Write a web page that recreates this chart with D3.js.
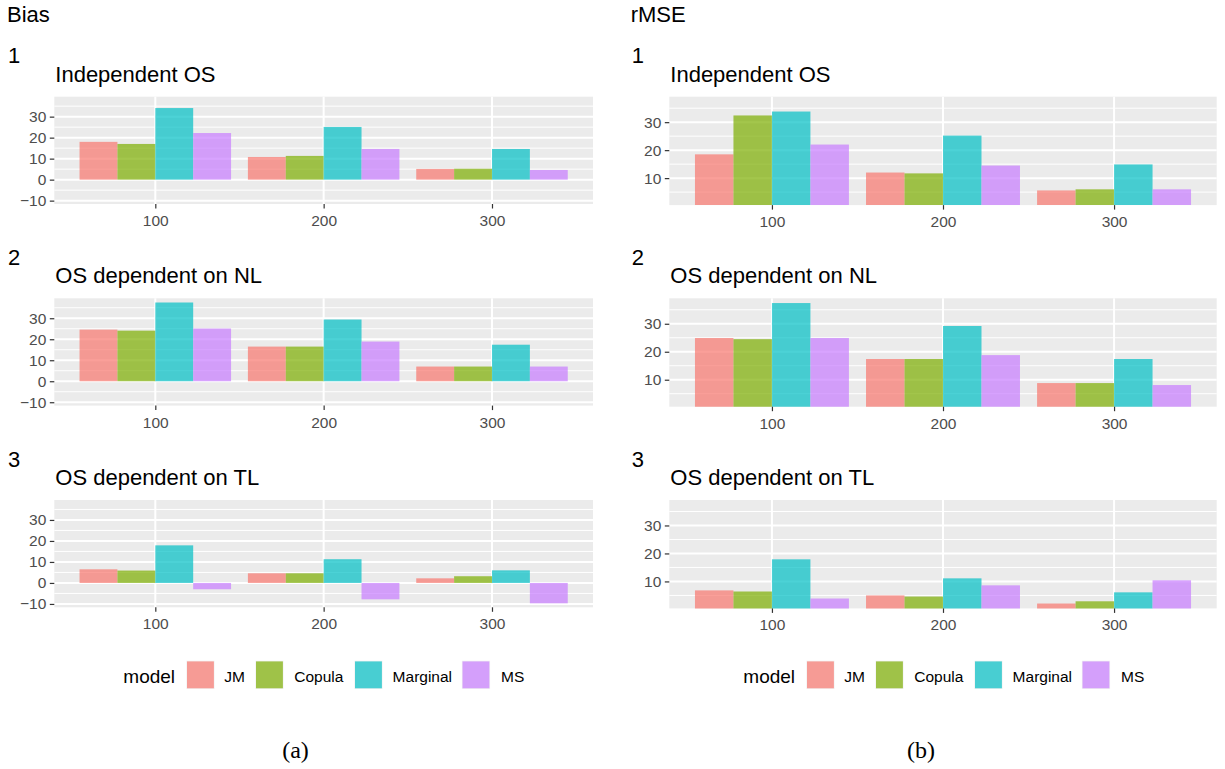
<!DOCTYPE html>
<html>
<head>
<meta charset="utf-8">
<script src="https://cdn.jsdelivr.net/npm/d3@7"></script>
<style>
  body { margin: 0; background: #fff; }
  svg text { font-family: "Liberation Sans", Arial, sans-serif; }
  svg text.caption { font-family: "Liberation Serif", "Times New Roman", serif; }
</style>
</head>
<body>
<div id="chart"></div>
<script>
// data; rows = model, columns = sample size
const sampleSizes = [100, 200, 300];
const models = ["JM", "Copula", "Marginal", "MS"];
const modelColors = ["#F8766D", "#7CAE00", "#00BFC4", "#C77CFF"];
const scenarios = ["Independent OS", "OS dependent on NL", "OS dependent on TL"];

const biasIndependent = [[18.0, 10.8, 5.1], [17.0, 11.3, 5.2], [34.1, 25.1, 14.6], [22.2, 14.6, 4.6]];
const biasNL = [[24.6, 16.5, 7.0], [24.1, 16.5, 7.0], [37.5, 29.4, 17.4], [25.1, 18.9, 7.0]];
const biasTL = [[6.5, 4.6, 2.2], [5.9, 4.6, 3.2], [17.9, 11.3, 6.0], [-3.0, -7.8, -9.7]];

const rmseIndependent = [[18.5, 12.0, 5.6], [32.4, 11.7, 6.0], [33.8, 25.2, 14.9], [22.0, 14.5, 6.0]];
const rmseNL = [[24.9, 17.4, 8.8], [24.5, 17.4, 8.8], [37.4, 29.2, 17.4], [24.9, 18.8, 8.1]];
const rmseTL = [[6.8, 5.0, 2.1], [6.4, 4.6, 2.9], [17.9, 11.1, 6.1], [3.9, 8.6, 10.4]];

const biasTicks = [-10, 0, 10, 20, 30];
const biasMinor = [-5, 5, 15, 25, 35];
const rmseTicks = [10, 20, 30];
const rmseMinor = [5, 15, 25, 35];

const W = 1225, H = 769;
const svg = d3.select("#chart").append("svg")
    .attr("width", W).attr("height", H);

const panelTops = [96.7, 298.3, 500];

function drawColumn(opts) {
    const g = svg.append("g");

    g.append("text")
        .attr("x", opts.titleX).attr("y", 21.7)
        .attr("font-size", 22).attr("fill", "#000")
        .text(opts.title);

    opts.data.forEach((vals, p) => {
        const top = panelTops[p];
        const bottom = top + opts.height;
        const x = d3.scaleLinear().domain([40, 360]).range([opts.x0, opts.x1]);
        const y = d3.scaleLinear().domain(opts.yDomain).range([bottom, top]);

        // panel number and subtitle
        g.append("text")
            .attr("x", opts.titleX + 1).attr("y", top - 33.4)
            .attr("font-size", 22).text(p + 1);
        g.append("text")
            .attr("x", opts.x0 + 1).attr("y", top - 15)
            .attr("font-size", 22).text(scenarios[p]);

        const clipId = "clip-" + opts.key + p;
        g.append("clipPath").attr("id", clipId)
            .append("rect")
            .attr("x", opts.x0).attr("y", top)
            .attr("width", opts.x1 - opts.x0).attr("height", opts.height);

        g.append("rect")
            .attr("x", opts.x0).attr("y", top)
            .attr("width", opts.x1 - opts.x0).attr("height", opts.height)
            .attr("fill", "#EBEBEB");

        // grid
        const grid = g.append("g").attr("stroke", "#fff");
        grid.selectAll("line.minor")
            .data(opts.minor)
            .join("line")
            .attr("x1", opts.x0).attr("x2", opts.x1)
            .attr("y1", d => y(d)).attr("y2", d => y(d))
            .attr("stroke-width", 1);
        grid.selectAll("line.majorY")
            .data(opts.ticks)
            .join("line")
            .attr("x1", opts.x0).attr("x2", opts.x1)
            .attr("y1", d => y(d)).attr("y2", d => y(d))
            .attr("stroke-width", 2);
        grid.selectAll("line.majorX")
            .data(sampleSizes)
            .join("line")
            .attr("x1", d => x(d)).attr("x2", d => x(d))
            .attr("y1", top).attr("y2", bottom)
            .attr("stroke-width", 2);

        // bars, dodged, total width 90 units
        const bw = 90 / models.length;
        const bars = [];
        vals.forEach((row, m) => {
            row.forEach((v, s) => bars.push({m: m, n: sampleSizes[s], v: v}));
        });
        g.append("g").attr("clip-path", `url(#${clipId})`)
            .selectAll("rect")
            .data(bars)
            .join("rect")
            .attr("x", d => x(d.n - 45 + d.m * bw))
            .attr("width", d => x(d.n - 45 + (d.m + 1) * bw) - x(d.n - 45 + d.m * bw))
            .attr("y", d => y(Math.max(0, d.v)))
            .attr("height", d => Math.abs(y(0) - y(d.v)))
            .attr("fill", d => modelColors[d.m])
            .attr("fill-opacity", 0.7);

        // axes
        const yAxis = g.append("g")
            .attr("transform", `translate(${opts.x0},0)`)
            .call(d3.axisLeft(y).tickValues(opts.ticks).tickSize(4.5).tickPadding(3.5));
        yAxis.select(".domain").remove();
        yAxis.selectAll("line").attr("stroke", "#333").attr("stroke-width", 1.2);
        yAxis.selectAll("text").attr("fill", "#4D4D4D").attr("font-size", 15.5);

        const xAxis = g.append("g")
            .attr("transform", `translate(0,${bottom})`)
            .call(d3.axisBottom(x).tickValues(sampleSizes).tickSize(4.5).tickPadding(6.5));
        xAxis.select(".domain").remove();
        xAxis.selectAll("line").attr("stroke", "#333").attr("stroke-width", 1.2);
        xAxis.selectAll("text").attr("fill", "#4D4D4D").attr("font-size", 15.5);
    });

    // legend
    const lg = g.append("g").attr("transform", `translate(${opts.legendX},0)`);
    lg.append("text").attr("x", 0).attr("y", 682.7)
        .attr("font-size", 19).text("model");
    const keyX = [63, 132, 231, 338.5];
    const labelX = [101, 171, 269.3, 377.7];
    models.forEach((m, i) => {
        lg.append("rect")
            .attr("x", keyX[i]).attr("y", 660.7)
            .attr("width", 28.3).attr("height", 28.3)
            .attr("fill", "#F2F2F2");
        lg.append("rect")
            .attr("x", keyX[i] + 0.7).attr("y", 661.4)
            .attr("width", 26.9).attr("height", 26.9)
            .attr("fill", modelColors[i]).attr("fill-opacity", 0.7);
        lg.append("text").attr("x", labelX[i]).attr("y", 681.7)
            .attr("font-size", 15.5).text(m);
    });

    g.append("text")
        .attr("class", "caption")
        .attr("x", opts.captionX).attr("y", 758)
        .attr("text-anchor", "middle")
        .attr("font-size", 24)
        .text(opts.caption);
}

drawColumn({
    key: "bias", title: "Bias", titleX: 7,
    x0: 54.3, x1: 593, height: 107.3,
    yDomain: [-11.6, 39.5], ticks: biasTicks, minor: biasMinor,
    data: [biasIndependent, biasNL, biasTL],
    legendX: 123.3, caption: "(a)", captionX: 295.5
});

drawColumn({
    key: "rmse", title: "rMSE", titleX: 630.7,
    x0: 669.3, x1: 1216.7, height: 108.4,
    yDomain: [0.36, 39.1], ticks: rmseTicks, minor: rmseMinor,
    data: [rmseIndependent, rmseNL, rmseTL],
    legendX: 743.3, caption: "(b)", captionX: 921
});
</script>
</body>
</html>
